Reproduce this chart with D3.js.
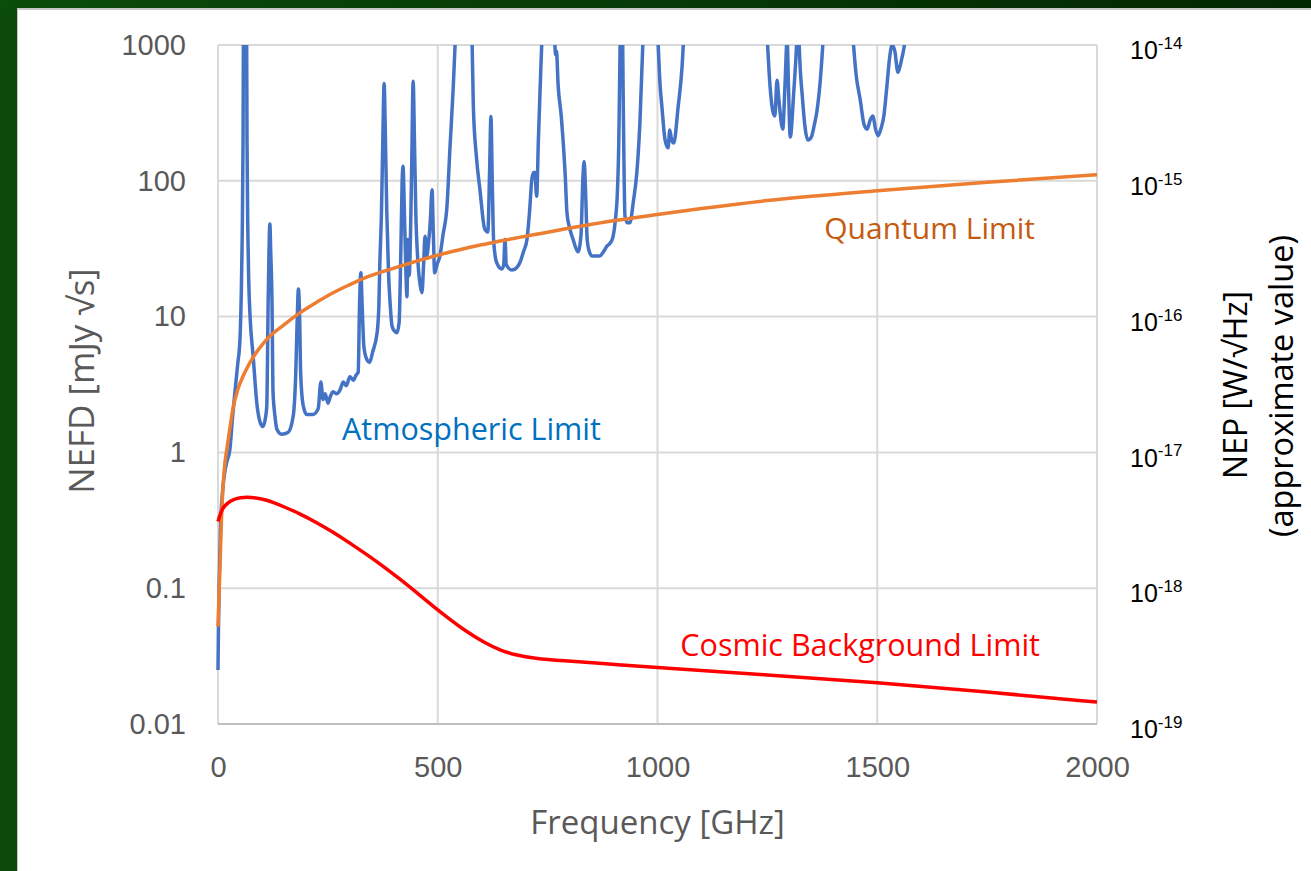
<!DOCTYPE html>
<html>
<head>
<meta charset="utf-8">
<script src="https://cdn.jsdelivr.net/npm/d3@7"></script>
<style>
  body { margin: 0; background: #0b4a0b; }
  svg { display: block; font-family: "Open Sans", "Noto Sans", sans-serif; }
</style>
</head>
<body>
<svg width="1311" height="871"></svg>
<script>
// Atmospheric limit (blue): frequency [GHz] / NEFD [mJy sqrt(s)]
var atmFreq = [0,1,3,6,10,15,20,27,33,39,45,50,53,55,57,58,60,63,65,66,68,70,73,80,89,96,102,108,111,114,116,118,120,123,125,130,134,145,159,171,177,180,183,186,188,194,202,216,228,234,239,244,250,256,262,270,278,285,292,300,308,314,319,322,325,328,332,339,345,352,362,366,368,372,375,378,381,384,388,392,396,402,407,412,416,419,421,424,427,430,432,435,438,441,444,447,450,455,460,464,468,471,475,479,483,487,490,493,498,505,512,521,528,535,540,548,570,578,581,588,596,607,614,618,621,624,627,634,646,650,653,656,669,680,687,695,703,709,714,718,721,725,729,734,737,745,760,766,768,770,774,781,785,790,794,800,808,819,826,830,833,836,840,845,851,860,869,877,885,893,899,905,908,912,914,916,920,922,926,932,937,945,953,960,967,975,995,1001,1006,1010,1017,1024,1028,1032,1037,1047,1056,1060,1070,1240,1249,1256,1262,1267,1272,1276,1285,1290,1295,1298,1302,1310,1317,1320,1322,1330,1342,1350,1357,1363,1370,1377,1385,1435,1445,1452,1461,1470,1477,1484,1490,1496,1502,1508,1515,1522,1528,1534,1540,1547,1552,1556,1563,1570,2000];
var atmNefd = [0.025,0.05,0.12,0.3,0.5,0.7,0.85,1.05,1.8,2.9,4.5,6.8,15,37,200,1500,3000,3000,1500,200,40,18,10,5.1,2.2,1.66,1.55,1.8,2.2,12,30,48,30,12,2.9,1.8,1.48,1.36,1.4,1.84,3.9,9,16,9,3.9,2.2,1.9,1.9,2.1,3.3,2.45,2.7,2.3,2.6,2.8,2.7,2.9,3.3,3.1,3.6,3.4,3.7,3.9,12,21,12,6,4.8,4.6,5.5,7.6,12,23,60,200,520,200,60,21,12,8.5,7.8,7.6,9,30,100,128,60,25,14,37,20,40,150,540,200,60,25,17,15,25,39,28,35,50,86,40,21,24,28,40,65,180,470,1100,3000,3000,1100,352,150,86,44,42,120,298,100,37,25,22.4,24,37,24,22,23,25,30,37,60,102,115,115,77,202,600,1100,3000,3000,1100,850,900,500,300,202,110,58,45,37,30,40,100,139,90,37,30,28,28,28,30,33,35,39,55,73,200,600,1500,1500,400,55,49,49,70,115,268,1100,3000,3000,1100,500,352,202,175,237,200,190,352,700,1200,3000,3000,1200,500,330,300,550,400,240,500,1100,500,210,450,1100,2000,1100,400,200,210,260,330,530,1100,3000,3000,1100,600,400,260,240,280,300,240,215,240,300,500,800,1000,900,630,700,800,1100,3000,3000];

// Quantum limit (orange)
var qlFreq = [0,1,4.5,8,12,16,20,27,34,45,58,73,90,111,150,187,225,262,300,338,376,414,452,489,528,566,604,642,680,717,756,794,832,869,1000,1100,1250,1500,1750,2000];
var qlNefd = [0.052,0.065,0.145,0.33,0.6,0.85,1.05,1.5,2.1,2.9,3.7,4.6,5.6,6.8,8.7,10.7,12.8,15,17.2,19.5,21.5,23.5,25.6,27.7,29.9,32,34,36,38,40,42.2,44.5,46.7,49,56.5,62.5,71.5,84.5,97.5,111];

// Cosmic background limit (red)
var cbFreq = [0,5,11,20,34,50,73,111,148,187,225,260,300,340,376,415,452,490,528,565,604,642,680,720,778,900,1000,1250,1500,1750,2000];
var cbNefd = [0.31,0.35,0.39,0.42,0.45,0.465,0.47,0.45,0.40,0.353,0.304,0.261,0.215,0.1755,0.145,0.1159,0.0929,0.0733,0.0589,0.048,0.0401,0.0349,0.032,0.0305,0.0293,0.0275,0.026,0.023,0.0203,0.0172,0.0145];

var xTicks = [0, 500, 1000, 1500, 2000];
var yTicks = [0.01, 0.1, 1, 10, 100, 1000];
var yTickLabels = ["0.01", "0.1", "1", "10", "100", "1000"];
var nepTicks = [1e-19, 1e-18, 1e-17, 1e-16, 1e-15, 1e-14];
var nepExp = ["-19", "-18", "-17", "-16", "-15", "-14"];

var svg = d3.select("svg");

// page frame: dark green slide background, white panel
var defs = svg.append("defs");
var grad = defs.append("linearGradient").attr("id", "topbar");
grad.append("stop").attr("offset", "0%").attr("stop-color", "#0a4c0a");
grad.append("stop").attr("offset", "100%").attr("stop-color", "#022602");
svg.append("rect").attr("width", 1311).attr("height", 871).attr("fill", "#0b4a0b");
svg.append("rect").attr("width", 1311).attr("height", 10).attr("fill", "url(#topbar)");
svg.append("rect").attr("x", 17).attr("y", 8).attr("width", 1294).attr("height", 863).attr("fill", "#c8c8c8");
svg.append("rect").attr("x", 18).attr("y", 10).attr("width", 1293).attr("height", 861).attr("fill", "#ffffff");

var x = d3.scaleLinear().domain([0, 2000]).range([218, 1097]);
var y = d3.scaleLog().domain([0.01, 1000]).range([724, 45]);
var yR = d3.scaleLog().domain([1e-19, 1e-14]).range([724, 45]);

defs.append("clipPath").attr("id", "plotclip")
  .append("rect")
  .attr("x", x(0) - 3).attr("y", y(1000))
  .attr("width", x(2000) - x(0) + 6).attr("height", y(0.01) - y(1000) + 3);

// gridlines
var grid = svg.append("g").attr("class", "grid");
grid.selectAll(".hg").data(yTicks).enter().append("line")
  .attr("x1", x(0)).attr("x2", x(2000))
  .attr("y1", function(d) { return y(d); }).attr("y2", function(d) { return y(d); })
  .attr("stroke", "#d9d9d9").attr("stroke-width", 2);
grid.selectAll(".vg").data(xTicks).enter().append("line")
  .attr("x1", function(d) { return x(d); }).attr("x2", function(d) { return x(d); })
  .attr("y1", y(1000)).attr("y2", y(0.01))
  .attr("stroke", "#d9d9d9").attr("stroke-width", 2);
// horizontal axis line
svg.append("line")
  .attr("x1", x(0)).attr("x2", x(2000)).attr("y1", y(0.01)).attr("y2", y(0.01))
  .attr("stroke", "#bfbfbf").attr("stroke-width", 2);

// axes
var xAxis = svg.append("g")
  .attr("transform", "translate(0," + (y(0.01) + 29) + ")")
  .call(d3.axisBottom(x).tickValues(xTicks).tickSize(0).tickFormat(d3.format("d")));
xAxis.select(".domain").remove();
xAxis.selectAll("text").attr("fill", "#595959").style("font-size", "29px").attr("dy", "0.71em");

var yAxis = svg.append("g")
  .attr("transform", "translate(" + (x(0) - 29) + ",0)")
  .call(d3.axisLeft(y).tickValues(yTicks).tickSize(0)
    .tickFormat(function(d, i) { return yTickLabels[i]; }));
yAxis.select(".domain").remove();
yAxis.selectAll("text").attr("fill", "#595959").style("font-size", "29px");

var yAxisR = svg.append("g")
  .attr("transform", "translate(" + (x(2000) + 30) + ",0)")
  .call(d3.axisRight(yR).tickValues(nepTicks).tickSize(0).tickFormat(function() { return ""; }));
yAxisR.select(".domain").remove();
yAxisR.selectAll("text")
  .attr("fill", "#000000").style("font-size", "25px").attr("dy", "0.55em")
  .each(function(d, i) {
    var t = d3.select(this);
    t.append("tspan").text("10");
    t.append("tspan").attr("dy", "-0.6em").style("font-size", "17px").text(nepExp[i]);
  });

// series
var plot = svg.append("g").attr("clip-path", "url(#plotclip)");

function series(fs, vs) {
  return fs.map(function(f, i) { return {f: f, v: vs[i]}; });
}

var line = d3.line()
  .x(function(d) { return x(d.f); })
  .y(function(d) { return y(d.v); })
  .curve(d3.curveMonotoneX);

plot.append("path")
  .datum(series(atmFreq, atmNefd))
  .attr("fill", "none").attr("stroke", "#4472c4").attr("stroke-width", 3.5)
  .attr("stroke-linejoin", "round")
  .attr("d", line);

plot.append("path")
  .datum(series(qlFreq, qlNefd))
  .attr("fill", "none").attr("stroke", "#ed7d31").attr("stroke-width", 3.5)
  .attr("d", line);

plot.append("path")
  .datum(series(cbFreq, cbNefd))
  .attr("fill", "none").attr("stroke", "#ff0000").attr("stroke-width", 3.5)
  .attr("d", line.curve(d3.curveBasis));

// series labels
svg.append("text").attr("x", 1035).attr("y", 239).attr("text-anchor", "end")
  .attr("fill", "#c55a11").style("font-size", "30px").text("Quantum Limit");
svg.append("text").attr("x", 342).attr("y", 440)
  .attr("fill", "#0070c0").style("font-size", "30.5px").text("Atmospheric Limit");
svg.append("text").attr("x", 1040).attr("y", 656).attr("text-anchor", "end")
  .attr("fill", "#ff0000").style("font-size", "30.5px").text("Cosmic Background Limit");

// axis titles
svg.append("text")
  .attr("text-anchor", "middle")
  .attr("transform", "translate(" + ((x(0) + x(2000)) / 2) + ",834)")
  .attr("fill", "#595959").style("font-size", "33px")
  .text("Frequency [GHz]");

svg.append("text")
  .attr("text-anchor", "middle")
  .attr("transform", "translate(94,381)rotate(-90)")
  .attr("fill", "#595959").style("font-size", "35px")
  .text("NEFD [mJy \u221As]");

svg.append("text")
  .attr("text-anchor", "middle")
  .attr("transform", "translate(1247,385)rotate(-90)")
  .attr("fill", "#000000").style("font-size", "32px")
  .text("NEP [W/\u221AHz]");
svg.append("text")
  .attr("text-anchor", "middle")
  .attr("transform", "translate(1293,386)rotate(-90)")
  .attr("fill", "#000000").style("font-size", "32.5px")
  .text("(approximate value)");
</script>
</body>
</html>
